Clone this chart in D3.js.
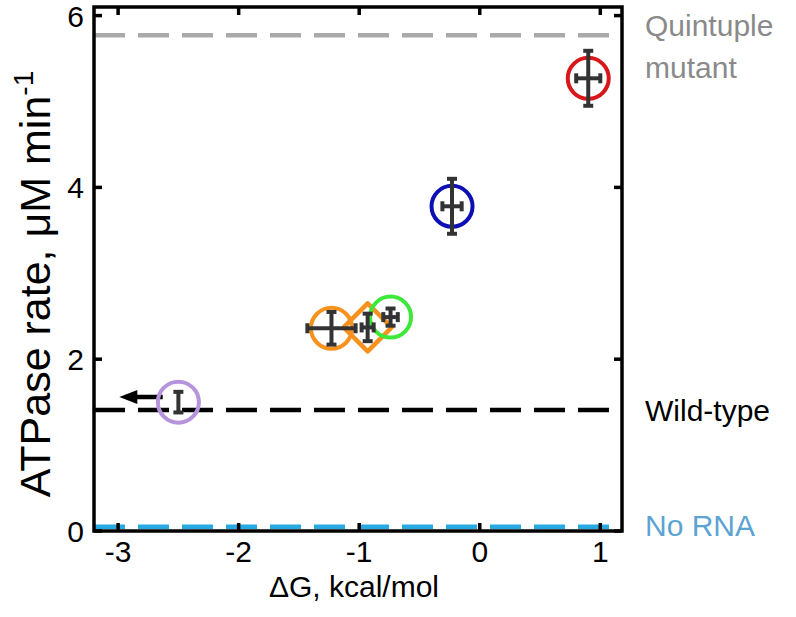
<!DOCTYPE html>
<html><head><meta charset="utf-8">
<script src="https://cdn.jsdelivr.net/npm/d3@7"></script>
<style>body{margin:0;background:#fff}svg{display:block}text{font-family:"Liberation Sans",Arial,sans-serif}</style>
</head><body>
<svg id="c" width="796" height="617"></svg>
<script>
// ---- data ----
const markerShapes = ["circle","circle","diamond","circle","circle","circle"];
const markerColors = ["#b594dc","#f7921e","#f7921e","#3de83a","#0c10b4","#d8171b"];
const dG      = [-2.50, -1.23, -0.93, -0.74, -0.23, 0.90];
const rate    = [1.50, 2.36, 2.37, 2.49, 3.78, 5.27];
const dGerr   = [0, 0.20, 0.05, 0.06, 0.08, 0.10];
const rateErr = [0.12, 0.19, 0.16, 0.10, 0.32, 0.32];
const arrowFrom = [-2.63, 1.56], arrowTo = [-2.99, 1.56];
const refNames  = ["Quintuple mutant", "Wild-type", "No RNA"];
const refValues = [5.77, 1.41, 0.05];
const refLineColors = ["#aaaaaa", "#000000", "#29a9e1"];
const refTextColors = ["#8a8a8a", "#000000", "#5ba3d3"];
const xTicks = [-3, -2, -1, 0, 1];
const yTicks = [0, 2, 4, 6];
const xDomain = [-3.2, 1.18], yDomain = [0, 6.1];

// ---- layout ----
const L = 94, R = 622, T = 7, B = 531;
const svg = d3.select("#c");
const x = d3.scaleLinear().domain(xDomain).range([L, R]);
const y = d3.scaleLinear().domain(yDomain).range([B, T]);
const FS = 30;

function txt(px, py, s, opts = {}) {
  return svg.append("text")
    .attr("x", px).attr("y", py)
    .attr("text-anchor", opts.anchor || "start")
    .attr("font-size", opts.size || FS)
    .attr("fill", opts.fill || "#000")
    .text(s);
}

// reference dashed lines
refValues.forEach((v, i) => {
  svg.append("line").attr("x1", L).attr("x2", R).attr("y1", y(v)).attr("y2", y(v))
    .attr("stroke", refLineColors[i]).attr("stroke-width", 4.5)
    .attr("stroke-dasharray", "31,13");
});

// arrow
svg.append("line").attr("x1", x(arrowFrom[0])).attr("y1", y(arrowFrom[1]))
  .attr("x2", x(arrowTo[0]) + 14).attr("y2", y(arrowTo[1]))
  .attr("stroke", "#000").attr("stroke-width", 4.5);
{
  const tx = x(arrowTo[0]), ty = y(arrowTo[1]);
  svg.append("path").attr("d", `M${tx},${ty} L${tx+18},${ty-7} L${tx+18},${ty+7} Z`).attr("fill", "#000");
}

// markers
dG.forEach((d, i) => {
  const cx = x(d), cy = y(rate[i]);
  if (markerShapes[i] === "circle") {
    svg.append("circle").attr("cx", cx).attr("cy", cy).attr("r", 20.5)
      .attr("fill", "none").attr("stroke", markerColors[i]).attr("stroke-width", 4);
  } else {
    const h = 24;
    svg.append("path").attr("d", `M${cx},${cy-h} L${cx+h},${cy} L${cx},${cy+h} L${cx-h},${cy} Z`)
      .attr("fill", "none").attr("stroke", markerColors[i]).attr("stroke-width", 4.5)
      .attr("stroke-linejoin", "round");
  }
});

// error bars
const eb = svg.append("g").attr("stroke", "#333").attr("stroke-width", 4).attr("fill", "none");
dG.forEach((d, i) => {
  const cx = x(d), cy = y(rate[i]);
  const cap = 5;
  if (rateErr[i] > 0) {
    const y1 = y(rate[i] + rateErr[i]), y2 = y(rate[i] - rateErr[i]);
    eb.append("line").attr("x1", cx).attr("x2", cx).attr("y1", y1).attr("y2", y2);
    eb.append("line").attr("x1", cx - cap).attr("x2", cx + cap).attr("y1", y1).attr("y2", y1);
    eb.append("line").attr("x1", cx - cap).attr("x2", cx + cap).attr("y1", y2).attr("y2", y2);
  }
  if (dGerr[i] > 0) {
    const x1 = x(d - dGerr[i]), x2 = x(d + dGerr[i]);
    eb.append("line").attr("x1", x1).attr("x2", x2).attr("y1", cy).attr("y2", cy);
    eb.append("line").attr("x1", x1).attr("x2", x1).attr("y1", cy - cap).attr("y2", cy + cap);
    eb.append("line").attr("x1", x2).attr("x2", x2).attr("y1", cy - cap).attr("y2", cy + cap);
  }
});

// frame & ticks
const fr = svg.append("g").attr("stroke", "#000").attr("stroke-width", 3.5);
fr.append("rect").attr("x", L).attr("y", T).attr("width", R - L).attr("height", B - T).attr("fill", "none");
const tl = 8;
xTicks.forEach(t => {
  fr.append("line").attr("x1", x(t)).attr("x2", x(t)).attr("y1", B).attr("y2", B - tl);
  fr.append("line").attr("x1", x(t)).attr("x2", x(t)).attr("y1", T).attr("y2", T + tl);
  txt(x(t), B + 31, t < 0 ? "-" + Math.abs(t) : String(t), {anchor: "middle"});
});
yTicks.forEach(t => {
  fr.append("line").attr("x1", L).attr("x2", L + tl).attr("y1", y(t)).attr("y2", y(t));
  fr.append("line").attr("x1", R).attr("x2", R - tl).attr("y1", y(t)).attr("y2", y(t));
  txt(L - 10, y(t) + 11, String(t), {anchor: "end"});
});

// axis titles
txt((L + R) / 2 - 4, 597, "\u0394G, kcal/mol", {anchor: "middle"});
const yt = svg.append("text").attr("transform", `translate(50,284) rotate(-90)`)
  .attr("text-anchor", "middle").attr("font-size", 43);
yt.append("tspan").text("ATPase rate, \u03bcM min");
yt.append("tspan").attr("font-size", 28).attr("dy", -17).text("-1");

// right labels
const lx = 645;
txt(lx, y(refValues[0]) + 1, "Quintuple", {fill: refTextColors[0]});
txt(lx, y(refValues[0]) + 43, "mutant", {fill: refTextColors[0]});
txt(lx, y(refValues[1]) + 11, refNames[1], {fill: refTextColors[1]});
txt(lx, y(refValues[2]) + 9, refNames[2], {fill: refTextColors[2]});
</script>
</body></html>
